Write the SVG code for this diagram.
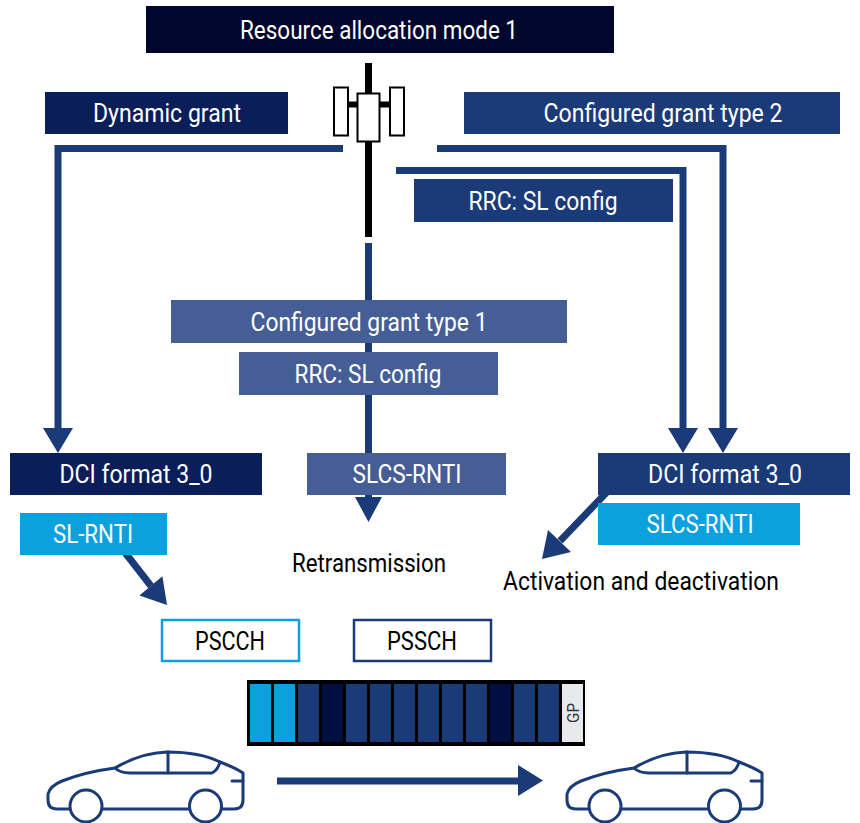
<svg xmlns="http://www.w3.org/2000/svg" xmlns:xlink="http://www.w3.org/1999/xlink" width="860" height="823" viewBox="0 0 860 823">
  <style>
    .lbl { font-family: Roboto, "Liberation Sans", sans-serif; font-size: 25px; fill: #ffffff; text-anchor: middle; }
    .dark { fill: #000000; }
    .navy0 { fill: #00062e; }
    .navy1 { fill: #0a1e5a; }
    .navy2 { fill: #1b3a78; }
    .mid { fill: #455e96; }
    .sky { fill: #0ca1de; }
    .conn { stroke: #1b3a78; stroke-width: 7; fill: none; }
    .head { fill: #1b3a78; }
    .car { stroke: #1b3a78; stroke-width: 3; fill: none; stroke-linecap: round; stroke-linejoin: round; }
  </style>
  <defs>
    <g id="car-shape" class="car">
      <path d="M70 809 L57 809 Q48 809 48 800 L48 794 Q50 786 62 781 Q85 772 115 768 Q140 753 167 752 Q200 752 220 762 Q236 768 243 773 L243 800 Q243 809 234 809 L222 809"/>
      <path d="M102 809 L189 809"/>
      <path d="M115 768 Q120 773 130 773 L212 773 Q218 770 220 762"/>
      <path d="M168 752 L168 773"/>
      <path d="M232 781 L243 781"/>
      <circle cx="86" cy="806" r="16"/>
      <circle cx="205.5" cy="806" r="16"/>
    </g>
  </defs>

  <rect width="860" height="823" fill="#ffffff"/>

  <!-- connectors (drawn first so boxes sit on top) -->
  <g id="connectors">
    <!-- dynamic grant path -->
    <polyline class="conn" points="343,148.5 58,148.5 58,430"/>
    <polygon class="head" points="43,428 73,428 58,453"/>
    <!-- configured grant type 2 paths -->
    <polyline class="conn" points="437,148.5 723,148.5 723,430"/>
    <polygon class="head" points="708,428 738,428 723,453"/>
    <polyline class="conn" points="396,170.5 683,170.5 683,430"/>
    <polygon class="head" points="668,428 698,428 683,453"/>
    <!-- configured grant type 1 path -->
    <line class="conn" x1="368.5" y1="243" x2="368.5" y2="500"/>
    <polygon class="head" points="355,497 382,497 368.5,522"/>
    <!-- SL-RNTI to PSCCH -->
    <line class="conn" x1="123" y1="550" x2="151" y2="586"/>
    <polygon class="head" points="139.4,595.5 162.4,576.3 167,605"/>
    <!-- DCI to activation/deactivation -->
    <line class="conn" x1="607" y1="492" x2="560" y2="541"/>
    <polygon class="head" points="548,530 571,552 542,559"/>
    <!-- vehicle to vehicle -->
    <line class="conn" x1="277" y1="781" x2="520" y2="781"/>
    <polygon class="head" points="518,765 543,780.5 518,796"/>
  </g>

  <!-- base station -->
  <g id="gnb">
    <rect x="365" y="63" width="7" height="174" fill="#000000"/>
    <rect x="347" y="101.5" width="44" height="6" fill="#000000"/>
    <rect x="334" y="87.5" width="14" height="48" fill="#ffffff" stroke="#000000" stroke-width="2"/>
    <rect x="390" y="87.5" width="14" height="48" fill="#ffffff" stroke="#000000" stroke-width="2"/>
    <rect x="357.5" y="93.5" width="22" height="48" fill="#ffffff" stroke="#000000" stroke-width="2"/>
  </g>

  <g id="mode1">
    <rect class="navy0" x="146" y="6" width="468" height="47"/>
    <text class="lbl" x="379" y="38.5" textLength="278" lengthAdjust="spacingAndGlyphs">Resource allocation mode 1</text>
  </g>

  <g id="dynamic-grant">
    <rect class="navy1" x="45" y="92" width="243" height="42"/>
    <text class="lbl" x="167" y="122" textLength="148" lengthAdjust="spacingAndGlyphs">Dynamic grant</text>
  </g>

  <g id="cg-type2">
    <rect class="navy2" x="464" y="92" width="376" height="42"/>
    <text class="lbl" x="663" y="122" textLength="239" lengthAdjust="spacingAndGlyphs">Configured grant type 2</text>
  </g>

  <g id="rrc-type2">
    <rect class="navy2" x="414" y="179" width="259" height="43"/>
    <text class="lbl" x="543" y="209.5" textLength="149" lengthAdjust="spacingAndGlyphs">RRC: SL config</text>
  </g>

  <g id="cg-type1">
    <rect class="mid" x="171" y="300" width="396" height="43"/>
    <text class="lbl" x="369" y="330.5" textLength="237" lengthAdjust="spacingAndGlyphs">Configured grant type 1</text>
  </g>

  <g id="rrc-type1">
    <rect class="mid" x="239" y="352" width="259" height="43"/>
    <text class="lbl" x="368" y="382.5" textLength="147" lengthAdjust="spacingAndGlyphs">RRC: SL config</text>
  </g>

  <g id="dci-dynamic">
    <rect class="navy1" x="10" y="453" width="252" height="42"/>
    <text class="lbl" x="136" y="483" textLength="153" lengthAdjust="spacingAndGlyphs">DCI format 3_0</text>
  </g>

  <g id="sl-rnti">
    <rect class="sky" x="20" y="513" width="147" height="42"/>
    <text class="lbl" x="93" y="543" textLength="80" lengthAdjust="spacingAndGlyphs">SL-RNTI</text>
  </g>

  <g id="slcs-rnti-type1">
    <rect class="mid" x="307" y="453" width="199" height="42"/>
    <text class="lbl" x="407" y="483" textLength="109" lengthAdjust="spacingAndGlyphs">SLCS-RNTI</text>
  </g>

  <g id="dci-type2">
    <rect class="navy2" x="598" y="453" width="252" height="42"/>
    <text class="lbl" x="725" y="483" textLength="154" lengthAdjust="spacingAndGlyphs">DCI format 3_0</text>
  </g>

  <g id="slcs-rnti-type2">
    <rect class="sky" x="598" y="503" width="202" height="42"/>
    <text class="lbl" x="700" y="533" textLength="107" lengthAdjust="spacingAndGlyphs">SLCS-RNTI</text>
  </g>

  <g id="retransmission">
    <text class="lbl dark" x="369" y="572" textLength="154" lengthAdjust="spacingAndGlyphs">Retransmission</text>
  </g>

  <g id="activation">
    <text class="lbl dark" x="641" y="590" textLength="276" lengthAdjust="spacingAndGlyphs">Activation and deactivation</text>
  </g>

  <g id="pscch">
    <rect x="162" y="620" width="137" height="41" fill="#ffffff" stroke="#0ca1de" stroke-width="2.5"/>
    <text class="lbl dark" x="230" y="650" textLength="70" lengthAdjust="spacingAndGlyphs">PSCCH</text>
  </g>

  <g id="pssch">
    <rect x="354" y="620" width="137" height="41" fill="#ffffff" stroke="#1b3a78" stroke-width="2.5"/>
    <text class="lbl dark" x="422" y="650" textLength="70" lengthAdjust="spacingAndGlyphs">PSSCH</text>
  </g>

  <!-- slot with 14 symbols -->
  <g id="slot">
    <rect x="247" y="680" width="338" height="66" fill="#000000"/>
    <rect class="sky" x="250" y="684" width="21" height="58"/>
    <rect class="sky" x="274" y="684" width="21" height="58"/>
    <rect class="navy2" x="298" y="684" width="21" height="58"/>
    <rect fill="#000f42" x="322" y="684" width="21" height="58"/>
    <rect class="navy2" x="346" y="684" width="21" height="58"/>
    <rect class="navy2" x="370" y="684" width="21" height="58"/>
    <rect class="navy2" x="394" y="684" width="21" height="58"/>
    <rect class="navy2" x="418" y="684" width="21" height="58"/>
    <rect class="navy2" x="442" y="684" width="21" height="58"/>
    <rect class="navy2" x="466" y="684" width="21" height="58"/>
    <rect fill="#000f42" x="490" y="684" width="21" height="58"/>
    <rect class="navy2" x="514" y="684" width="21" height="58"/>
    <rect class="navy2" x="538" y="684" width="21" height="58"/>
    <rect fill="#e8e9ec" x="562" y="684" width="21" height="58"/>
    <text x="0" y="0" transform="translate(578.5,713) rotate(-90)" font-family="Roboto, 'Liberation Sans', sans-serif" font-size="17" fill="#333333" text-anchor="middle" textLength="20" lengthAdjust="spacingAndGlyphs">GP</text>
  </g>

  <g id="vehicle-tx">
    <use xlink:href="#car-shape"/>
  </g>
  <g id="vehicle-rx">
    <use xlink:href="#car-shape" transform="translate(519,0)"/>
  </g>
</svg>
